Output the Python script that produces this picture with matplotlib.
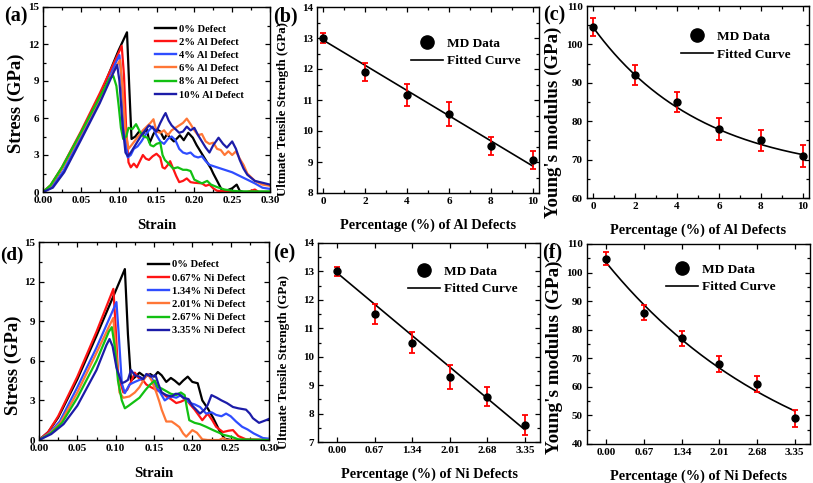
import matplotlib
matplotlib.use("Agg")
import matplotlib.pyplot as plt
import numpy as np
from matplotlib.lines import Line2D
from matplotlib.ticker import MultipleLocator, FixedLocator, FormatStrFormatter

plt.rcParams['font.family'] = ['Liberation Serif', 'DejaVu Serif']
plt.rcParams['font.weight'] = 'bold'

# ---------------- data ----------------
labels_al = ['0% Defect', '2% Al Defect', '4% Al Defect', '6% Al Defect', '8% Al Defect', '10% Al Defect']
labels_ni = ['0% Defect', '0.67% Ni Defect', '1.34% Ni Defect', '2.01% Ni Defect', '2.67% Ni Defect', '3.35% Ni Defect']
colors = ['#000000', '#ff1414', '#2f4dff', '#ff7636', '#12c012', '#1c1ca8']

# Panel (a) stress-strain curves
a0_x = [0, 0.01, 0.025, 0.05, 0.075, 0.1, 0.111, 0.114, 0.117, 0.122, 0.127, 0.132, 0.137, 0.141, 0.146, 0.150, 0.155, 0.160, 0.164, 0.168, 0.173, 0.178, 0.181, 0.186, 0.192, 0.198, 0.203, 0.207, 0.212, 0.217, 0.222, 0.225, 0.231, 0.236, 0.242, 0.250, 0.256, 0.260, 0.265, 0.3]
a0_y = [0, 0.45, 1.9, 4.7, 7.8, 11.5, 12.95, 8.5, 4.3, 4.5, 4.9, 4.7, 5.1, 4.0, 4.7, 5.1, 4.9, 4.3, 4.7, 4.4, 4.1, 4.4, 4.6, 4.2, 4.8, 4.4, 3.8, 3.4, 2.9, 2.4, 1.9, 1.5, 0.8, 0.2, 0.1, 0.3, 0.6, 0.1, 0.0, 0.0]
a1_x = [0, 0.01, 0.025, 0.05, 0.075, 0.1, 0.104, 0.107, 0.110, 0.113, 0.116, 0.120, 0.124, 0.128, 0.132, 0.136, 0.140, 0.145, 0.150, 0.155, 0.158, 0.161, 0.165, 0.168, 0.172, 0.176, 0.180, 0.185, 0.19, 0.195, 0.2, 0.21, 0.215, 0.22, 0.225, 0.23, 0.24, 0.25, 0.27, 0.28, 0.285, 0.3]
a1_y = [0, 0.55, 2.0, 4.9, 8.0, 11.3, 11.85, 9.5, 5.0, 2.4, 2.0, 2.3, 2.0, 2.5, 3.0, 2.7, 2.6, 2.9, 3.1, 2.8, 2.0, 1.9, 2.2, 2.5, 1.9, 1.3, 0.8, 0.9, 1.1, 0.8, 0.75, 0.7, 0.5, 0.6, 0.3, 0.1, 0.05, 0.0, 0.0, 0.2, 0.0, 0.0]
a2_x = [0, 0.012, 0.027, 0.05, 0.075, 0.097, 0.101, 0.104, 0.108, 0.112, 0.116, 0.12, 0.125, 0.13, 0.135, 0.14, 0.145, 0.15, 0.155, 0.16, 0.165, 0.17, 0.175, 0.18, 0.185, 0.19, 0.195, 0.2, 0.205, 0.21, 0.215, 0.22, 0.225, 0.23, 0.24, 0.25, 0.26, 0.27, 0.28, 0.29, 0.3]
a2_y = [0, 0.4, 1.7, 4.4, 7.4, 10.6, 11.1, 9.0, 4.5, 2.8, 3.0, 3.5, 3.7, 4.1, 4.6, 5.0, 5.3, 4.6, 4.1, 3.9, 4.3, 4.5, 4.2, 3.5, 3.2, 3.1, 3.2, 2.9, 2.8, 2.9, 2.5, 2.2, 2.1, 2.0, 1.8, 1.6, 1.3, 1.0, 0.7, 0.35, 0.25]
a3_x = [0, 0.01, 0.025, 0.05, 0.075, 0.098, 0.102, 0.105, 0.109, 0.113, 0.117, 0.122, 0.127, 0.132, 0.137, 0.142, 0.146, 0.15, 0.155, 0.16, 0.165, 0.17, 0.175, 0.18, 0.185, 0.19, 0.195, 0.2, 0.205, 0.21, 0.215, 0.22, 0.225, 0.23, 0.235, 0.24, 0.245, 0.25, 0.255, 0.26, 0.265, 0.27, 0.28, 0.29, 0.3]
a3_y = [0, 0.5, 1.9, 4.7, 7.6, 10.3, 10.7, 8.5, 5.0, 3.5, 3.8, 4.2, 4.6, 5.0, 5.3, 5.6, 5.9, 4.9, 4.8, 5.0, 4.6, 5.0, 5.2, 5.4, 5.6, 5.95, 5.5, 5.0, 4.6, 4.7, 4.1, 3.9, 4.0, 3.5, 3.4, 3.0, 3.3, 3.0, 3.3, 2.7, 2.2, 1.5, 0.9, 0.6, 0.5]
a4_x = [0, 0.01, 0.025, 0.05, 0.075, 0.088, 0.093, 0.097, 0.1, 0.103, 0.106, 0.110, 0.113, 0.118, 0.123, 0.128, 0.133, 0.138, 0.142, 0.146, 0.150, 0.155, 0.158, 0.161, 0.166, 0.172, 0.178, 0.185, 0.19, 0.195, 0.2, 0.205, 0.21, 0.217, 0.222, 0.23, 0.24, 0.25, 0.26, 0.3]
a4_y = [0, 0.55, 2.0, 4.8, 7.7, 9.2, 9.4, 8.6, 7.0, 5.2, 4.3, 4.5, 5.2, 5.1, 5.5, 4.9, 4.5, 4.4, 3.8, 3.7, 3.9, 4.0, 3.0, 2.6, 2.3, 1.9, 2.0, 1.8, 1.8, 1.7, 1.0, 0.85, 0.7, 0.9, 0.6, 0.4, 0.2, 0.1, 0.05, 0.05]
a5_x = [0, 0.013, 0.028, 0.05, 0.075, 0.094, 0.098, 0.101, 0.105, 0.109, 0.112, 0.116, 0.12, 0.125, 0.13, 0.135, 0.14, 0.145, 0.15, 0.155, 0.16, 0.162, 0.166, 0.17, 0.175, 0.18, 0.185, 0.19, 0.195, 0.2, 0.205, 0.21, 0.215, 0.22, 0.225, 0.232, 0.238, 0.243, 0.25, 0.255, 0.26, 0.265, 0.27, 0.28, 0.29, 0.3]
a5_y = [0, 0.35, 1.6, 4.2, 7.2, 9.8, 10.3, 9.0, 5.5, 3.2, 2.9, 3.2, 3.6, 4.1, 4.6, 5.0, 5.4, 5.2, 4.9, 5.6, 6.2, 6.4, 5.8, 5.4, 5.1, 4.8, 4.9, 5.3, 5.0, 5.2, 4.6, 4.1, 3.6, 3.2, 3.8, 4.4, 3.9, 3.6, 4.1, 3.5, 2.6, 1.9, 1.4, 0.9, 0.75, 0.6]

# Panel (d) stress-strain curves
d0_x = [0, 0.012, 0.025, 0.05, 0.075, 0.1, 0.112, 0.116, 0.120, 0.126, 0.131, 0.138, 0.145, 0.150, 0.155, 0.160, 0.166, 0.172, 0.177, 0.183, 0.188, 0.194, 0.200, 0.207, 0.213, 0.220, 0.227, 0.235, 0.242, 0.25, 0.3]
d0_y = [0, 0.6, 1.7, 4.6, 7.9, 11.3, 12.95, 8.0, 4.5, 4.8, 5.1, 4.8, 5.0, 4.8, 5.15, 4.9, 4.4, 4.7, 4.5, 4.2, 4.5, 4.8, 4.4, 4.3, 3.0, 2.4, 1.7, 0.75, 0.1, 0.0, 0.0]
d1_x = [0, 0.012, 0.025, 0.05, 0.075, 0.094, 0.097, 0.100, 0.103, 0.107, 0.110, 0.115, 0.120, 0.125, 0.130, 0.136, 0.140, 0.146, 0.153, 0.160, 0.166, 0.172, 0.179, 0.185, 0.192, 0.197, 0.203, 0.208, 0.213, 0.220, 0.226, 0.231, 0.24, 0.247, 0.253, 0.26, 0.27, 0.3]
d1_y = [0, 0.6, 1.8, 4.8, 8.2, 11.0, 11.45, 8.5, 5.1, 4.2, 3.6, 3.8, 4.4, 5.1, 4.7, 4.5, 4.2, 4.0, 3.8, 3.6, 3.3, 3.1, 2.8, 2.9, 3.1, 2.7, 2.3, 1.9, 1.5, 2.0, 1.5, 1.0, 0.6, 0.7, 0.75, 0.3, 0.05, 0.0]
d2_x = [0, 0.013, 0.027, 0.05, 0.075, 0.097, 0.101, 0.104, 0.108, 0.112, 0.118, 0.125, 0.131, 0.137, 0.143, 0.148, 0.153, 0.158, 0.164, 0.169, 0.173, 0.179, 0.185, 0.191, 0.197, 0.203, 0.21, 0.218, 0.225, 0.231, 0.238, 0.244, 0.25, 0.257, 0.265, 0.272, 0.28, 0.287, 0.292, 0.3]
d2_y = [0, 0.5, 1.4, 4.0, 7.0, 9.9, 10.45, 8.0, 4.3, 3.55, 4.2, 4.4, 4.55, 4.7, 5.0, 4.6, 4.0, 3.6, 3.0, 3.2, 3.3, 3.2, 3.4, 3.1, 2.8, 2.7, 2.5, 2.0, 2.1, 1.9, 1.8, 2.0, 1.8, 1.4, 1.0, 0.8, 0.5, 0.3, 0.15, 0.1]
d3_x = [0, 0.014, 0.028, 0.05, 0.075, 0.093, 0.097, 0.100, 0.105, 0.110, 0.118, 0.125, 0.131, 0.137, 0.142, 0.147, 0.153, 0.157, 0.160, 0.166, 0.173, 0.178, 0.183, 0.188, 0.192, 0.2, 0.206, 0.213, 0.22, 0.235, 0.24, 0.245, 0.3]
d3_y = [0, 0.5, 1.3, 3.6, 6.6, 8.8, 9.25, 7.0, 3.6, 3.2, 3.3, 3.6, 4.0, 4.6, 5.0, 4.5, 3.6, 2.9, 2.3, 1.4, 1.4, 1.2, 0.98, 0.5, 0.25, 0.75, 0.55, 0.05, 0.0, 0.0, 0.15, 0.0, 0.0]
d4_x = [0, 0.015, 0.03, 0.05, 0.075, 0.091, 0.095, 0.099, 0.103, 0.108, 0.112, 0.117, 0.124, 0.131, 0.139, 0.145, 0.151, 0.155, 0.160, 0.166, 0.172, 0.179, 0.185, 0.190, 0.193, 0.196, 0.203, 0.21, 0.218, 0.227, 0.235, 0.24, 0.247, 0.253, 0.26, 0.3]
d4_y = [0, 0.5, 1.3, 3.2, 6.0, 8.2, 8.55, 7.0, 4.5, 3.0, 2.4, 2.6, 2.9, 3.2, 3.8, 4.2, 4.5, 4.0, 3.9, 3.7, 3.5, 3.4, 3.6, 3.4, 2.4, 1.5, 1.3, 1.2, 1.0, 0.75, 0.55, 0.4, 0.3, 0.2, 0.05, 0.0]
d5_x = [0, 0.016, 0.032, 0.05, 0.075, 0.088, 0.092, 0.096, 0.101, 0.105, 0.108, 0.112, 0.116, 0.120, 0.125, 0.131, 0.136, 0.140, 0.146, 0.152, 0.156, 0.160, 0.166, 0.173, 0.178, 0.182, 0.188, 0.195, 0.2, 0.205, 0.21, 0.216, 0.22, 0.225, 0.232, 0.238, 0.245, 0.253, 0.26, 0.27, 0.275, 0.279, 0.287, 0.296, 0.3]
d5_y = [0, 0.45, 1.2, 2.6, 5.3, 7.2, 7.65, 7.1, 5.5, 4.8, 4.3, 4.4, 4.55, 5.3, 4.9, 4.8, 4.6, 5.0, 4.8, 4.9, 4.2, 3.6, 3.4, 3.3, 3.5, 3.5, 3.2, 3.1, 2.6, 2.3, 2.0, 2.3, 2.65, 3.4, 3.2, 3.0, 2.8, 2.5, 2.4, 2.3, 2.0, 1.65, 1.3, 1.5, 1.6]

# Panel (b): UTS vs Al defects
al_pct = [0, 2, 4, 6, 8, 10]
uts_al = [13.0, 11.9, 11.17, 10.55, 9.52, 9.07]
uts_al_err = [0.17, 0.3, 0.35, 0.4, 0.3, 0.3]
uts_al_fit = [12.93, 8.87]          # fitted line values at x = 0 and x = 10

# Panel (c): Young's modulus vs Al defects
ym_al = [104.6, 92.0, 85.0, 78.0, 75.0, 71.0]
ym_al_err = [2.4, 2.7, 2.7, 2.8, 2.8, 2.9]
ym_al_fit = (65.65, 38.75, 5.19)   # y0, A, t  of y0 + A*exp(-x/t)

# Panel (e): UTS vs Ni defects
ni_pct = [0.00, 0.67, 1.34, 2.01, 2.68, 3.35]
ni_labels = ['0.00', '0.67', '1.34', '2.01', '2.68', '3.35']
uts_ni = [13.0, 11.5, 10.5, 9.3, 8.6, 7.6]
uts_ni_err = [0.17, 0.35, 0.38, 0.42, 0.33, 0.35]
uts_ni_fit = [12.95, 7.43]          # at x = 0 and x = 3.35

# Panel (f): Young's modulus vs Ni defects
ym_ni = [104.8, 86.0, 77.0, 68.0, 61.0, 49.0]
ym_ni_err = [2.3, 2.7, 2.7, 2.7, 2.8, 2.9]
ym_ni_fit = (19.9, 83.6, 3.45)

# ---------------- figure ----------------
W, H = 813, 483
fig = plt.figure(figsize=(W / 100, H / 100), dpi=100)

def ax_px(l, t, r, b):
    return fig.add_axes([l / W, 1 - b / H, (r - l) / W, (b - t) / H])

axa = ax_px(43, 7, 270, 192)
axb = ax_px(317, 7, 539, 193)
axc = ax_px(587, 6, 809, 198)
axd = ax_px(39, 242, 269, 440)
axe = ax_px(318, 243, 540, 442)
axf = ax_px(587, 244, 810, 444)

TICK_FS = 8

def style(ax):
    for s in ax.spines.values():
        s.set_linewidth(1.0)
    ax.tick_params(which='both', direction='in', top=True, right=True,
                   labelsize=TICK_FS, width=0.9, pad=3)
    ax.tick_params(which='major', length=3.5)
    ax.tick_params(which='minor', length=2)
    for lab in ax.get_xticklabels() + ax.get_yticklabels():
        lab.set_fontweight('bold')

# stress-strain panels
def stress_panel(ax, curves, labels, legend_anchor, ylab_xy):
    for (xs, ys), c, lab in zip(curves, colors, labels):
        ax.plot(xs, ys, color=c, lw=1.6, label=lab, solid_joinstyle='round')
    ax.set_xlim(0, 0.3)
    ax.set_ylim(0, 15)
    ax.xaxis.set_major_locator(MultipleLocator(0.05))
    ax.xaxis.set_minor_locator(MultipleLocator(0.025))
    ax.yaxis.set_major_locator(MultipleLocator(3))
    ax.yaxis.set_minor_locator(MultipleLocator(1.5))
    ax.xaxis.set_major_formatter(FormatStrFormatter('%.2f'))
    ax.set_xlabel('Strain', fontsize=10.5, fontweight='bold', labelpad=10)
    ax.set_ylabel('Stress (GPa)', fontsize=13.4, fontweight='bold')
    ax.yaxis.set_label_coords(*ylab_xy)
    leg = ax.legend(loc='upper left', bbox_to_anchor=legend_anchor, frameon=False,
                    fontsize=7.6, handlelength=2.0, handletextpad=0.3,
                    labelspacing=0.36, borderaxespad=0)
    for t in leg.get_texts():
        t.set_fontweight('bold')
    for l in leg.get_lines():
        l.set_linewidth(1.7)
    style(ax)

stress_panel(axa, [(a0_x, a0_y), (a1_x, a1_y), (a2_x, a2_y), (a3_x, a3_y), (a4_x, a4_y), (a5_x, a5_y)],
             labels_al, (0.475, 0.93), (-0.08, 0.48))
stress_panel(axd, [(d0_x, d0_y), (d1_x, d1_y), (d2_x, d2_y), (d3_x, d3_y), (d4_x, d4_y), (d5_x, d5_y)],
             labels_ni, (0.455, 0.93), (-0.074, 0.38))

def data_panel(ax, x, y, err, fitx, fity, ylabel, ylabel_fs, ylab_xy, xlabel, ylim, ymaj, ymin,
               xlim, xticks, xticklabels, leg_anchor):
    ax.plot(fitx, fity, color='black', lw=1.2, zorder=2)
    ax.errorbar(x, y, yerr=err, fmt='none', ecolor='red', elinewidth=1.3,
                capsize=2.2, capthick=1.3, zorder=3)
    ax.plot(x, y, 'o', color='black', ms=5, zorder=4)
    ax.set_xlim(*xlim)
    ax.set_ylim(*ylim)
    ax.xaxis.set_major_locator(FixedLocator(xticks))
    ax.set_xticklabels(xticklabels)
    ax.yaxis.set_major_locator(MultipleLocator(ymaj))
    ax.yaxis.set_minor_locator(MultipleLocator(ymin))
    ax.set_xlabel(xlabel, fontsize=10.3, fontweight='bold', labelpad=9)
    ax.set_ylabel(ylabel, fontsize=ylabel_fs, fontweight='bold')
    ax.yaxis.set_label_coords(*ylab_xy)
    handles = [Line2D([], [], marker='o', ls='none', color='black', ms=9.5),
               Line2D([], [], color='black', lw=1.2)]
    leg = ax.legend(handles, ['MD Data', 'Fitted Curve'], loc='upper left',
                    bbox_to_anchor=leg_anchor, frameon=False, fontsize=9.6,
                    handlelength=2.4, handletextpad=0.3, labelspacing=0.4,
                    borderaxespad=0)
    for t in leg.get_texts():
        t.set_fontweight('bold')
    style(ax)

# (b)
data_panel(axb, al_pct, uts_al, uts_al_err, [al_pct[0], al_pct[-1]], uts_al_fit,
           'Ultmate Tensile Strength (GPa)', 9.4, (-0.125, 0.45), 'Percentage (%) of Al Defects',
           (8, 14), 1, 0.5, (-0.3, 10.3), al_pct, [str(v) for v in al_pct], (0.40, 0.865))
axb.xaxis.set_minor_locator(MultipleLocator(1))

# (c)
xc = np.linspace(al_pct[0], al_pct[-1], 200)
yc = ym_al_fit[0] + ym_al_fit[1] * np.exp(-xc / ym_al_fit[2])
data_panel(axc, al_pct, ym_al, ym_al_err, xc, yc,
           "Young's modulus (GPa)", 13.6, (-0.113, 0.396), 'Percentage (%) of Al Defects',
           (60, 110), 10, 5, (-0.3, 10.3), al_pct, [str(v) for v in al_pct], (0.40, 0.90))
axc.xaxis.set_minor_locator(MultipleLocator(1))

# (e)
data_panel(axe, ni_pct, uts_ni, uts_ni_err, [ni_pct[0], ni_pct[-1]], uts_ni_fit,
           'Ultmate Tensile Strength (GPa)', 9.4, (-0.125, 0.40), 'Percentage (%) of Ni Defects',
           (7, 14), 1, 0.5, (-0.34, 3.62), ni_pct, ni_labels, (0.38, 0.915))

# (f)
xf = np.linspace(ni_pct[0], ni_pct[-1], 200)
yf = ym_ni_fit[0] + ym_ni_fit[1] * np.exp(-xf / ym_ni_fit[2])
data_panel(axf, ni_pct, ym_ni, ym_ni_err, xf, yf,
           "Young's modulus (GPa)", 13.8, (-0.108, 0.435), 'Percentage (%) of Ni Defects',
           (40, 110), 10, 5, (-0.34, 3.62), ni_pct, ni_labels, (0.33, 0.93))

# panel letters
for txt, x, y, fs in [('(a)', 4, 16, 14.5), ('(b)', 273, 16, 14.5), ('(c)', 543, 15, 14.5),
                      ('(d)', 0, 255, 13.8), ('(e)', 273, 253, 14.5), ('(f)', 542, 252, 14.5)]:
    fig.text(x / W, 1 - y / H, txt, fontsize=fs, fontweight='bold', va='center', ha='left')

fig.savefig('out.png', dpi=100)
